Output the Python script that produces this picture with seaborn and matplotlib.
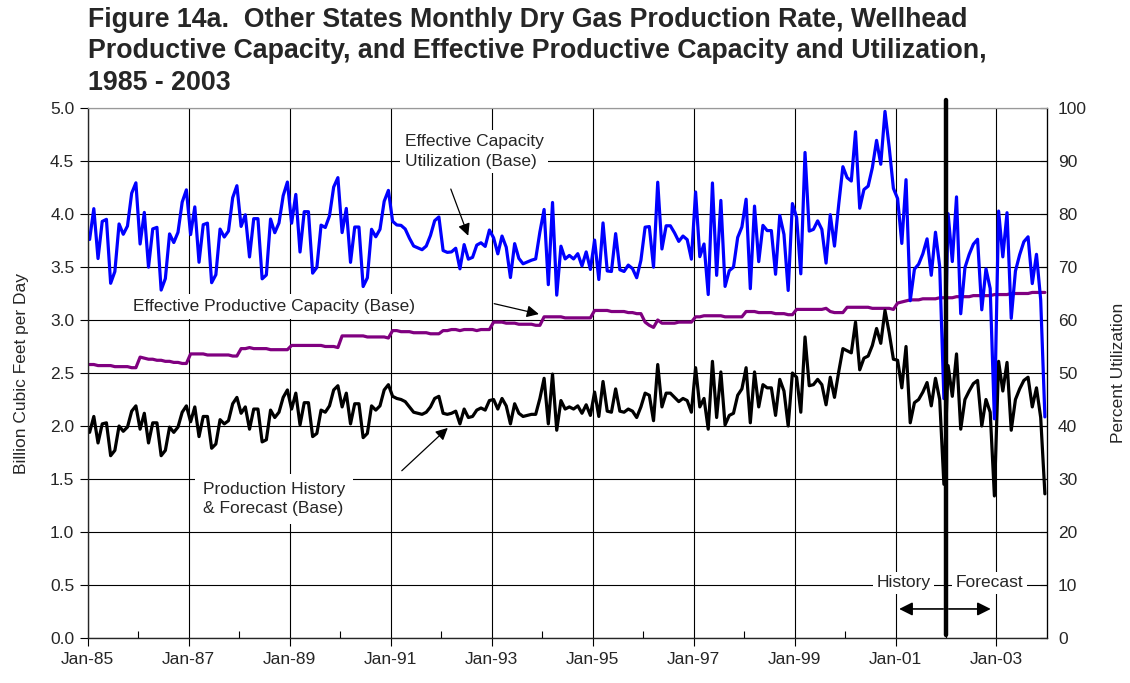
import numpy as np
import pandas as pd
import matplotlib
matplotlib.use("Agg")
import matplotlib.pyplot as plt
from matplotlib.ticker import FixedLocator, MultipleLocator
import seaborn as sns

sns.set_style("white")
plt.rcParams["font.family"] = ["Liberation Sans", "DejaVu Sans"]

# Monthly categories, Jan-1985 .. Dec-2003
months = pd.date_range("1985-01-01", "2003-12-01", freq="MS")

# Dry gas production rate, history & forecast (Bcf/d)
production = [
    1.94, 2.09, 1.84, 2.02, 2.03, 1.72, 1.77, 2.00, 1.95, 1.99, 2.14, 2.19,  # 1985
    1.97, 2.12, 1.84, 2.03, 2.03, 1.72, 1.77, 1.99, 1.94, 1.99, 2.13, 2.19,  # 1986
    2.04, 2.18, 1.90, 2.09, 2.09, 1.79, 1.83, 2.06, 2.02, 2.05, 2.21, 2.27,  # 1987
    2.12, 2.18, 1.97, 2.16, 2.16, 1.85, 1.87, 2.15, 2.08, 2.13, 2.27, 2.34,  # 1988
    2.16, 2.31, 2.01, 2.22, 2.22, 1.90, 1.93, 2.15, 2.13, 2.19, 2.34, 2.38,  # 1989
    2.18, 2.31, 2.02, 2.21, 2.21, 1.89, 1.93, 2.19, 2.15, 2.19, 2.34, 2.39,  # 1990
    2.28, 2.26, 2.25, 2.23, 2.18, 2.13, 2.12, 2.11, 2.13, 2.18, 2.26, 2.28,  # 1991
    2.12, 2.11, 2.12, 2.14, 2.02, 2.16, 2.08, 2.09, 2.15, 2.17, 2.15, 2.24,  # 1992
    2.25, 2.16, 2.26, 2.19, 2.02, 2.21, 2.12, 2.09, 2.10, 2.11, 2.11, 2.26,  # 1993
    2.45, 2.02, 2.49, 1.96, 2.24, 2.16, 2.18, 2.16, 2.19, 2.12, 2.20, 2.10,  # 1994
    2.32, 2.09, 2.42, 2.14, 2.13, 2.35, 2.14, 2.13, 2.16, 2.14, 2.08, 2.18,  # 1995
    2.31, 2.29, 2.05, 2.58, 2.18, 2.31, 2.31, 2.27, 2.23, 2.26, 2.24, 2.13,  # 1996
    2.55, 2.18, 2.26, 1.97, 2.61, 2.08, 2.51, 2.01, 2.10, 2.12, 2.29, 2.35,  # 1997
    2.55, 2.03, 2.51, 2.18, 2.39, 2.36, 2.36, 2.10, 2.44, 2.33, 2.00, 2.50,  # 1998
    2.46, 2.13, 2.84, 2.38, 2.39, 2.44, 2.39, 2.20, 2.46, 2.27, 2.51, 2.73,  # 1999
    2.71, 2.69, 2.98, 2.53, 2.64, 2.66, 2.76, 2.92, 2.78, 3.09, 2.88, 2.63,  # 2000
    2.62, 2.36, 2.75, 2.03, 2.22, 2.25, 2.32, 2.41, 2.19, 2.45, 2.25, 1.45,  # 2001
    2.57, 2.28, 2.68, 1.97, 2.25, 2.33, 2.40, 2.43, 2.00, 2.25, 2.13, 1.34,  # 2002
    2.61, 2.33, 2.60, 1.96, 2.25, 2.35, 2.43, 2.46, 2.18, 2.36, 2.08, 1.36,  # 2003
]

# Effective productive capacity (Bcf/d)
capacity = [
    2.58, 2.58, 2.57, 2.57, 2.57, 2.57, 2.56, 2.56, 2.56, 2.56, 2.55, 2.55,  # 1985
    2.65, 2.64, 2.63, 2.63, 2.62, 2.62, 2.61, 2.61, 2.60, 2.60, 2.59, 2.59,  # 1986
    2.68, 2.68, 2.68, 2.68, 2.67, 2.67, 2.67, 2.67, 2.67, 2.67, 2.66, 2.66,  # 1987
    2.73, 2.73, 2.74, 2.73, 2.73, 2.73, 2.73, 2.72, 2.72, 2.72, 2.72, 2.72,  # 1988
    2.76, 2.76, 2.76, 2.76, 2.76, 2.76, 2.76, 2.76, 2.75, 2.75, 2.75, 2.74,  # 1989
    2.85, 2.85, 2.85, 2.85, 2.85, 2.85, 2.84, 2.84, 2.84, 2.84, 2.84, 2.83,  # 1990
    2.90, 2.90, 2.89, 2.89, 2.89, 2.88, 2.88, 2.88, 2.88, 2.87, 2.87, 2.87,  # 1991
    2.90, 2.90, 2.91, 2.91, 2.90, 2.91, 2.91, 2.91, 2.90, 2.91, 2.91, 2.91,  # 1992
    2.98, 2.98, 2.98, 2.97, 2.97, 2.97, 2.96, 2.96, 2.96, 2.96, 2.95, 2.95,  # 1993
    3.03, 3.03, 3.03, 3.03, 3.03, 3.02, 3.02, 3.02, 3.02, 3.02, 3.02, 3.02,  # 1994
    3.09, 3.09, 3.09, 3.09, 3.08, 3.08, 3.08, 3.08, 3.07, 3.07, 3.06, 3.06,  # 1995
    2.98, 2.95, 2.93, 3.00, 2.97, 2.97, 2.97, 2.97, 2.98, 2.98, 2.98, 2.98,  # 1996
    3.03, 3.03, 3.04, 3.04, 3.04, 3.04, 3.04, 3.03, 3.03, 3.03, 3.03, 3.03,  # 1997
    3.08, 3.08, 3.08, 3.07, 3.07, 3.07, 3.07, 3.06, 3.06, 3.06, 3.05, 3.05,  # 1998
    3.10, 3.10, 3.10, 3.10, 3.10, 3.10, 3.10, 3.11, 3.08, 3.07, 3.07, 3.07,  # 1999
    3.12, 3.12, 3.12, 3.12, 3.12, 3.12, 3.11, 3.11, 3.11, 3.11, 3.11, 3.10,  # 2000
    3.16, 3.17, 3.18, 3.19, 3.19, 3.19, 3.20, 3.20, 3.20, 3.20, 3.21, 3.21,  # 2001
    3.21, 3.21, 3.22, 3.22, 3.22, 3.22, 3.23, 3.23, 3.23, 3.23, 3.23, 3.24,  # 2002
    3.24, 3.24, 3.24, 3.25, 3.25, 3.25, 3.25, 3.25, 3.26, 3.26, 3.26, 3.26,  # 2003
]

tick_labels = [m.strftime("%b-%y") for m in months[::24]]

df = pd.DataFrame({
    "pos": np.arange(len(months)) + 0.5,   # each month centred in its category slot
    "production": production,
    "capacity": capacity,
})
# utilization = production as a share of effective capacity
df["utilization"] = df["production"] / df["capacity"] * 100

FS = 12.5
fig = plt.figure(figsize=(11.3, 6.83), dpi=100)
ax = fig.add_axes([87.5 / 1130, 1 - 638 / 683, (1047 - 87.5) / 1130, (638 - 108) / 683])
ax2 = ax.twinx()

sns.lineplot(data=df, x="pos", y="capacity", ax=ax, color="#800080", lw=2.3)
sns.lineplot(data=df, x="pos", y="production", ax=ax, color="black", lw=2.3)
sns.lineplot(data=df, x="pos", y="utilization", ax=ax2, color="#0000FF", lw=2.3)

n = len(months)
ax.set_xlim(0, n)
ax.set_ylim(0, 5)
ax2.set_ylim(0, 100)

ax.xaxis.set_major_locator(FixedLocator(np.arange(0, n, 24)))
ax.set_xticklabels(tick_labels)
ax.xaxis.set_minor_locator(FixedLocator(np.arange(12, n, 24)))
ax.yaxis.set_major_locator(MultipleLocator(0.5))
ax.yaxis.set_major_formatter("{x:.1f}")
ax2.yaxis.set_major_locator(MultipleLocator(10))

ax.grid(True, which="major", color="black", lw=0.8)
ax.set_axisbelow(True)

ax.tick_params(axis="x", which="major", direction="out", length=6, width=0.8,
               color="black", labelsize=FS, pad=4, bottom=True)
ax.tick_params(axis="x", which="minor", direction="in", length=5, width=0.8,
               color="black", bottom=True)
ax.tick_params(axis="y", direction="out", length=6, width=0.8, color="black",
               labelsize=FS, left=True)
ax2.tick_params(axis="y", direction="in", length=5, width=0.8, color="black",
                labelsize=FS, right=True, pad=8)

ax.set_xlabel("")
ax.set_ylabel("Billion Cubic Feet per Day", fontsize=FS, labelpad=15)
ax2.set_ylabel("Percent Utilization", fontsize=FS, labelpad=17)

for sp in ("left", "bottom"):
    ax.spines[sp].set_color("black")
    ax.spines[sp].set_linewidth(0.9)
ax2.spines["right"].set_color("black")
ax2.spines["right"].set_linewidth(0.9)
ax2.spines["top"].set_color("#999999")
ax.spines["top"].set_color("#999999")

# history / forecast divider
ax2.axvline(204, ymin=0.005, ymax=1.015, clip_on=False, color="black", lw=3.2, zorder=4)

box = dict(boxstyle="square,pad=0.25", fc="white", ec="none")
arrow = dict(arrowstyle="-|>", color="black", lw=0.9, mutation_scale=18)

ax2.text(75.4, 4.59 * 20, "Effective Capacity\nUtilization (Base)", fontsize=FS,
         ha="left", va="center", linespacing=1.35, bbox=box, zorder=6)
ax2.annotate("", xy=(90.7, 3.77 * 20), xytext=(86.1, 4.26 * 20),
             arrowprops=arrow, zorder=6)

ax2.text(10.8, 3.13 * 20, "Effective Productive Capacity (Base)", fontsize=FS,
         ha="left", va="center", bbox=dict(boxstyle="square,pad=0.3", fc="white", ec="none"),
         zorder=6)
ax2.annotate("", xy=(107.9, 3.05 * 20), xytext=(96.0, 3.16 * 20),
             arrowprops=arrow, zorder=6)

ax2.text(27.4, 1.31 * 20, "Production History\n& Forecast (Base)", fontsize=FS,
         ha="left", va="center", linespacing=1.35,
         bbox=dict(boxstyle="square,pad=0.45", fc="white", ec="none"), zorder=6)
ax2.annotate("", xy=(86.1, 2.0 * 20), xytext=(74.2, 1.56 * 20),
             arrowprops=arrow, zorder=6)

ax2.text(194.0, 0.52 * 20, "History", fontsize=FS, ha="center", va="center",
         bbox=dict(boxstyle="square,pad=0.2", fc="white", ec="none"), zorder=6)
ax2.text(214.4, 0.52 * 20, "Forecast", fontsize=FS, ha="center", va="center",
         bbox=dict(boxstyle="square,pad=0.2", fc="white", ec="none"), zorder=6)
ax2.annotate("", xy=(192.2, 0.274 * 20), xytext=(204, 0.274 * 20),
             arrowprops=dict(arrowstyle="-|>", color="black", lw=1.2, mutation_scale=20), zorder=6)
ax2.annotate("", xy=(215.3, 0.274 * 20), xytext=(204, 0.274 * 20),
             arrowprops=dict(arrowstyle="-|>", color="black", lw=1.2, mutation_scale=20), zorder=6)

fig.text(88 / 1130, 1 - 7 / 683,
         "Figure 14a.  Other States Monthly Dry Gas Production Rate, Wellhead\n"
         "Productive Capacity, and Effective Productive Capacity and Utilization,\n"
         "1985 - 2003",
         fontsize=19.3, fontweight="bold", ha="left", va="top", linespacing=1.27)

fig.savefig("out.png", dpi=100)
